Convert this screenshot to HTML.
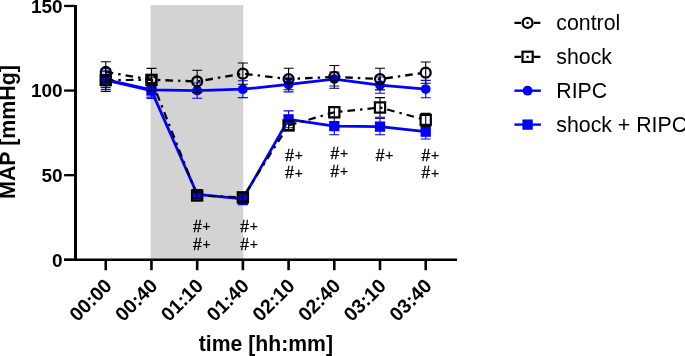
<!DOCTYPE html>
<html><head><meta charset="utf-8"><title>MAP chart</title>
<style>
html,body{margin:0;padding:0;background:#fff;}
body{width:685px;height:356px;overflow:hidden;}
.t{font-family:"Liberation Sans",sans-serif;fill:#000;}
</style></head><body>
<svg width="685" height="356" viewBox="0 0 685 356" style="display:block;will-change:transform">
<rect x="0" y="0" width="685" height="356" fill="#fff"/>
<rect x="150.6" y="5" width="92.6" height="254" fill="#d3d3d3"/>
<polyline points="105.75,80.07 151.46,90.57 197.17,194.31 242.88,198.88 288.59,119.34 334.30,126.11 380.01,126.61 425.72,131.69" fill="none" stroke="#0000ff" stroke-width="2.8" stroke-linejoin="round"/>
<polyline points="105.75,79.57 151.46,89.89 197.17,90.57 242.88,89.21 288.59,84.47 334.30,79.06 380.01,85.15 425.72,89.04" fill="none" stroke="#0000ff" stroke-width="2.8" stroke-linejoin="round"/>
<path d="M105.75 70.77V89.38M100.75 70.77H110.75M100.75 89.38H110.75" stroke="#0000ff" stroke-width="1.1" fill="none"/>
<path d="M151.46 82.61V98.52M146.46 82.61H156.46M146.46 98.52H156.46" stroke="#0000ff" stroke-width="1.1" fill="none"/>
<path d="M197.17 190.92V197.69M192.17 190.92H202.17M192.17 197.69H202.17" stroke="#0000ff" stroke-width="1.1" fill="none"/>
<path d="M242.88 193.12V204.63M237.88 193.12H247.88M237.88 204.63H247.88" stroke="#0000ff" stroke-width="1.1" fill="none"/>
<path d="M288.59 110.87V127.80M283.59 110.87H293.59M283.59 127.80H293.59" stroke="#0000ff" stroke-width="1.1" fill="none"/>
<path d="M334.30 117.47V134.74M329.30 117.47H339.30M329.30 134.74H339.30" stroke="#0000ff" stroke-width="1.1" fill="none"/>
<path d="M380.01 118.49V134.74M375.01 118.49H385.01M375.01 134.74H385.01" stroke="#0000ff" stroke-width="1.1" fill="none"/>
<path d="M425.72 124.41V138.97M420.72 124.41H430.72M420.72 138.97H430.72" stroke="#0000ff" stroke-width="1.1" fill="none"/>
<rect x="100.60" y="74.92" width="10.3" height="10.3" fill="#0000ff"/>
<rect x="146.31" y="85.42" width="10.3" height="10.3" fill="#0000ff"/>
<rect x="192.02" y="189.16" width="10.3" height="10.3" fill="#0000ff"/>
<rect x="237.73" y="193.73" width="10.3" height="10.3" fill="#0000ff"/>
<rect x="283.44" y="114.19" width="10.3" height="10.3" fill="#0000ff"/>
<rect x="329.15" y="120.96" width="10.3" height="10.3" fill="#0000ff"/>
<rect x="374.86" y="121.46" width="10.3" height="10.3" fill="#0000ff"/>
<rect x="420.57" y="126.54" width="10.3" height="10.3" fill="#0000ff"/>
<path d="M105.75 71.78V87.35M100.75 71.78H110.75M100.75 87.35H110.75" stroke="#0000ff" stroke-width="1.1" fill="none"/>
<path d="M151.46 82.61V97.17M146.46 82.61H156.46M146.46 97.17H156.46" stroke="#0000ff" stroke-width="1.1" fill="none"/>
<path d="M197.17 82.95V98.18M192.17 82.95H202.17M192.17 98.18H202.17" stroke="#0000ff" stroke-width="1.1" fill="none"/>
<path d="M242.88 80.75V97.67M237.88 80.75H247.88M237.88 97.67H247.88" stroke="#0000ff" stroke-width="1.1" fill="none"/>
<path d="M288.59 77.03V91.92M283.59 77.03H293.59M283.59 91.92H293.59" stroke="#0000ff" stroke-width="1.1" fill="none"/>
<path d="M334.30 72.12V86.00M329.30 72.12H339.30M329.30 86.00H339.30" stroke="#0000ff" stroke-width="1.1" fill="none"/>
<path d="M380.01 77.03V93.27M375.01 77.03H385.01M375.01 93.27H385.01" stroke="#0000ff" stroke-width="1.1" fill="none"/>
<path d="M425.72 80.33V97.76M420.72 80.33H430.72M420.72 97.76H430.72" stroke="#0000ff" stroke-width="1.1" fill="none"/>
<circle cx="105.75" cy="79.57" r="4.9" fill="#0000ff"/>
<circle cx="151.46" cy="89.89" r="4.9" fill="#0000ff"/>
<circle cx="197.17" cy="90.57" r="4.9" fill="#0000ff"/>
<circle cx="242.88" cy="89.21" r="4.9" fill="#0000ff"/>
<circle cx="288.59" cy="84.47" r="4.9" fill="#0000ff"/>
<circle cx="334.30" cy="79.06" r="4.9" fill="#0000ff"/>
<circle cx="380.01" cy="85.15" r="4.9" fill="#0000ff"/>
<circle cx="425.72" cy="89.04" r="4.9" fill="#0000ff"/>
<polyline points="105.75,80.07 151.46,79.90 197.17,195.49 242.88,197.35 288.59,125.43 334.30,112.23 380.01,107.49 425.72,120.01" fill="none" stroke="#000" stroke-width="2.2" stroke-dasharray="7.6 5 2.5 5" stroke-linejoin="round"/>
<polyline points="105.75,71.95 151.46,79.74 197.17,81.43 242.88,73.64 288.59,79.06 334.30,76.86 380.01,79.06 425.72,72.63" fill="none" stroke="#000" stroke-width="2.3" stroke-dasharray="7.6 5 2.5 5" stroke-linejoin="round"/>
<path d="M105.75 68.74V91.41M100.75 68.74H110.75M100.75 91.41H110.75" stroke="#000" stroke-width="1.1" fill="none"/>
<path d="M151.46 77.20V82.61M146.46 77.20H156.46M146.46 82.61H156.46" stroke="#000" stroke-width="1.1" fill="none"/>
<path d="M197.17 192.11V198.88M192.17 192.11H202.17M192.17 198.88H202.17" stroke="#000" stroke-width="1.1" fill="none"/>
<path d="M242.88 193.97V200.74M237.88 193.97H247.88M237.88 200.74H247.88" stroke="#000" stroke-width="1.1" fill="none"/>
<path d="M288.59 121.20V129.66M283.59 121.20H293.59M283.59 129.66H293.59" stroke="#000" stroke-width="1.1" fill="none"/>
<path d="M334.30 106.64V117.81M329.30 106.64H339.30M329.30 117.81H339.30" stroke="#000" stroke-width="1.1" fill="none"/>
<path d="M380.01 97.67V117.31M375.01 97.67H385.01M375.01 117.31H385.01" stroke="#000" stroke-width="1.1" fill="none"/>
<path d="M425.72 113.41V126.61M420.72 113.41H430.72M420.72 126.61H430.72" stroke="#000" stroke-width="1.1" fill="none"/>
<rect x="100.65" y="74.97" width="10.2" height="10.2" fill="none" stroke="#000" stroke-width="2.2"/>
<rect x="146.36" y="74.80" width="10.2" height="10.2" fill="none" stroke="#000" stroke-width="2.2"/>
<rect x="192.07" y="190.39" width="10.2" height="10.2" fill="none" stroke="#000" stroke-width="2.2"/>
<rect x="237.78" y="192.25" width="10.2" height="10.2" fill="none" stroke="#000" stroke-width="2.2"/>
<rect x="283.49" y="120.33" width="10.2" height="10.2" fill="none" stroke="#000" stroke-width="2.2"/>
<rect x="329.20" y="107.13" width="10.2" height="10.2" fill="none" stroke="#000" stroke-width="2.2"/>
<rect x="374.91" y="102.39" width="10.2" height="10.2" fill="none" stroke="#000" stroke-width="2.2"/>
<rect x="420.62" y="114.91" width="10.2" height="10.2" fill="none" stroke="#000" stroke-width="2.2"/>
<path d="M105.75 61.80V82.11M100.75 61.80H110.75M100.75 82.11H110.75" stroke="#000" stroke-width="1.1" fill="none"/>
<path d="M151.46 68.40V91.07M146.46 68.40H156.46M146.46 91.07H156.46" stroke="#000" stroke-width="1.1" fill="none"/>
<path d="M197.17 70.26V92.60M192.17 70.26H202.17M192.17 92.60H202.17" stroke="#000" stroke-width="1.1" fill="none"/>
<path d="M242.88 62.98V84.31M237.88 62.98H247.88M237.88 84.31H247.88" stroke="#000" stroke-width="1.1" fill="none"/>
<path d="M288.59 68.31V89.81M283.59 68.31H293.59M283.59 89.81H293.59" stroke="#000" stroke-width="1.1" fill="none"/>
<path d="M334.30 65.44V88.28M329.30 65.44H339.30M329.30 88.28H339.30" stroke="#000" stroke-width="1.1" fill="none"/>
<path d="M380.01 68.23V89.89M375.01 68.23H385.01M375.01 89.89H385.01" stroke="#000" stroke-width="1.1" fill="none"/>
<path d="M425.72 61.97V83.29M420.72 61.97H430.72M420.72 83.29H430.72" stroke="#000" stroke-width="1.1" fill="none"/>
<circle cx="105.75" cy="71.95" r="4.95" fill="none" stroke="#000" stroke-width="2.3"/>
<circle cx="151.46" cy="79.74" r="4.95" fill="none" stroke="#000" stroke-width="2.3"/>
<circle cx="197.17" cy="81.43" r="4.95" fill="none" stroke="#000" stroke-width="2.3"/>
<circle cx="242.88" cy="73.64" r="4.95" fill="none" stroke="#000" stroke-width="2.3"/>
<circle cx="288.59" cy="79.06" r="4.95" fill="none" stroke="#000" stroke-width="2.3"/>
<circle cx="334.30" cy="76.86" r="4.95" fill="none" stroke="#000" stroke-width="2.3"/>
<circle cx="380.01" cy="79.06" r="4.95" fill="none" stroke="#000" stroke-width="2.3"/>
<circle cx="425.72" cy="72.63" r="4.95" fill="none" stroke="#000" stroke-width="2.3"/>
<path d="M75.5 5V261" stroke="#000" stroke-width="3" fill="none"/>
<path d="M64.1 259.8H457.1" stroke="#000" stroke-width="2.4" fill="none"/>
<path d="M64.1 259.80H75" stroke="#000" stroke-width="2.3"/>
<path d="M64.1 175.18H75" stroke="#000" stroke-width="2.3"/>
<path d="M64.1 90.57H75" stroke="#000" stroke-width="2.3"/>
<path d="M64.1 5.95H75" stroke="#000" stroke-width="2.3"/>
<path d="M105.75 259.5V270.2" stroke="#000" stroke-width="2.6"/>
<path d="M151.46 259.5V270.2" stroke="#000" stroke-width="2.6"/>
<path d="M197.17 259.5V270.2" stroke="#000" stroke-width="2.6"/>
<path d="M242.88 259.5V270.2" stroke="#000" stroke-width="2.6"/>
<path d="M288.59 259.5V270.2" stroke="#000" stroke-width="2.6"/>
<path d="M334.30 259.5V270.2" stroke="#000" stroke-width="2.6"/>
<path d="M380.01 259.5V270.2" stroke="#000" stroke-width="2.6"/>
<path d="M425.72 259.5V270.2" stroke="#000" stroke-width="2.6"/>
<text x="62.6" y="266.60" text-anchor="end" font-size="19" font-weight="bold" class="t">0</text>
<text x="62.6" y="181.98" text-anchor="end" font-size="19" font-weight="bold" class="t">50</text>
<text x="62.6" y="97.37" text-anchor="end" font-size="19" font-weight="bold" class="t">100</text>
<text x="62.6" y="12.75" text-anchor="end" font-size="19" font-weight="bold" class="t">150</text>
<text transform="translate(113.05 287.00) rotate(-45)" text-anchor="end" font-size="19.6" font-weight="bold" class="t">00:00</text>
<text transform="translate(158.76 287.00) rotate(-45)" text-anchor="end" font-size="19.6" font-weight="bold" class="t">00:40</text>
<text transform="translate(204.47 287.00) rotate(-45)" text-anchor="end" font-size="19.6" font-weight="bold" class="t">01:10</text>
<text transform="translate(250.18 287.00) rotate(-45)" text-anchor="end" font-size="19.6" font-weight="bold" class="t">01:40</text>
<text transform="translate(295.89 287.00) rotate(-45)" text-anchor="end" font-size="19.6" font-weight="bold" class="t">02:10</text>
<text transform="translate(341.60 287.00) rotate(-45)" text-anchor="end" font-size="19.6" font-weight="bold" class="t">02:40</text>
<text transform="translate(387.31 287.00) rotate(-45)" text-anchor="end" font-size="19.6" font-weight="bold" class="t">03:10</text>
<text transform="translate(433.02 287.00) rotate(-45)" text-anchor="end" font-size="19.6" font-weight="bold" class="t">03:40</text>
<text x="265.9" y="351" text-anchor="middle" font-size="21.2" font-weight="bold" class="t">time [hh:mm]</text>
<text transform="translate(15.3 132.0) rotate(-90)" text-anchor="middle" font-size="21.4" font-weight="bold" class="t">MAP [mmHg]</text>
<text x="201.77" y="232.2" text-anchor="middle" font-size="15.6" class="t"><tspan stroke="#000" stroke-width="0.35">#</tspan><tspan font-size="13.8" dx="0.9" dy="-0.8" stroke="#000" stroke-width="0.2">+</tspan></text>
<text x="201.77" y="249.8" text-anchor="middle" font-size="15.6" class="t"><tspan stroke="#000" stroke-width="0.35">#</tspan><tspan font-size="13.8" dx="0.9" dy="-0.8" stroke="#000" stroke-width="0.2">+</tspan></text>
<text x="248.98" y="232.2" text-anchor="middle" font-size="15.6" class="t"><tspan stroke="#000" stroke-width="0.35">#</tspan><tspan font-size="13.8" dx="0.9" dy="-0.8" stroke="#000" stroke-width="0.2">+</tspan></text>
<text x="248.98" y="249.8" text-anchor="middle" font-size="15.6" class="t"><tspan stroke="#000" stroke-width="0.35">#</tspan><tspan font-size="13.8" dx="0.9" dy="-0.8" stroke="#000" stroke-width="0.2">+</tspan></text>
<text x="294.09" y="160.5" text-anchor="middle" font-size="15.6" class="t"><tspan stroke="#000" stroke-width="0.35">#</tspan><tspan font-size="13.8" dx="0.9" dy="-0.8" stroke="#000" stroke-width="0.2">+</tspan></text>
<text x="294.09" y="178.4" text-anchor="middle" font-size="15.6" class="t"><tspan stroke="#000" stroke-width="0.35">#</tspan><tspan font-size="13.8" dx="0.9" dy="-0.8" stroke="#000" stroke-width="0.2">+</tspan></text>
<text x="339.30" y="158.8" text-anchor="middle" font-size="15.6" class="t"><tspan stroke="#000" stroke-width="0.35">#</tspan><tspan font-size="13.8" dx="0.9" dy="-0.8" stroke="#000" stroke-width="0.2">+</tspan></text>
<text x="339.30" y="177.0" text-anchor="middle" font-size="15.6" class="t"><tspan stroke="#000" stroke-width="0.35">#</tspan><tspan font-size="13.8" dx="0.9" dy="-0.8" stroke="#000" stroke-width="0.2">+</tspan></text>
<text x="384.61" y="160.5" text-anchor="middle" font-size="15.6" class="t"><tspan stroke="#000" stroke-width="0.35">#</tspan><tspan font-size="13.8" dx="0.9" dy="-0.8" stroke="#000" stroke-width="0.2">+</tspan></text>
<text x="430.32" y="160.5" text-anchor="middle" font-size="15.6" class="t"><tspan stroke="#000" stroke-width="0.35">#</tspan><tspan font-size="13.8" dx="0.9" dy="-0.8" stroke="#000" stroke-width="0.2">+</tspan></text>
<text x="430.32" y="178.4" text-anchor="middle" font-size="15.6" class="t"><tspan stroke="#000" stroke-width="0.35">#</tspan><tspan font-size="13.8" dx="0.9" dy="-0.8" stroke="#000" stroke-width="0.2">+</tspan></text>
<path d="M514.4 22.9H521M526.5 22.9H528.7M534 22.9H540.4" stroke="#000" stroke-width="2.2"/>
<circle cx="527.60" cy="22.90" r="4.95" fill="none" stroke="#000" stroke-width="2.3"/>
<text x="556.3" y="30.30" font-size="21.3" class="t">control</text>
<path d="M514.4 56.8H521M526.5 56.8H528.7M534 56.8H540.4" stroke="#000" stroke-width="2.2"/>
<rect x="522.50" y="51.70" width="10.2" height="10.2" fill="none" stroke="#000" stroke-width="2.2"/>
<text x="556.3" y="64.20" font-size="21.3" class="t">shock</text>
<path d="M514.4 90.7H540.9" stroke="#0000ff" stroke-width="2.4"/>
<circle cx="527.60" cy="90.70" r="4.9" fill="#0000ff"/>
<text x="556.3" y="98.10" font-size="21.3" class="t">RIPC</text>
<path d="M514.4 124.6H540.9" stroke="#0000ff" stroke-width="2.4"/>
<rect x="522.45" y="119.45" width="10.3" height="10.3" fill="#0000ff"/>
<text x="556.3" y="132.00" font-size="21.3" class="t">shock + RIPC</text>
</svg>
</body></html>
